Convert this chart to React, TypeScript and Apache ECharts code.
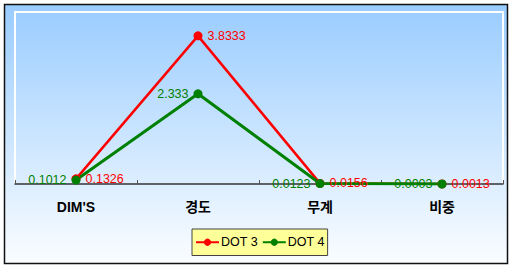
import React, { useEffect, useRef } from "react";
import * as echarts from "echarts";

const categories = ["DIM'S", "경도", "무계", "비중"];
const dot3 = [0.1326, 3.8333, 0.0156, 0.0013];
const dot4 = [0.1012, 2.333, 0.0123, 0.0003];
const seriesNames = ["DOT 3", "DOT 4"];

const FONT = "'Liberation Sans', Arial, 'Noto Sans CJK KR', sans-serif";

export default function App() {
  const ref = useRef<HTMLDivElement>(null);
  useEffect(() => {
    const chart = echarts.init(ref.current!, null, { renderer: "svg" });
    chart.setOption({
      animation: false,
      backgroundColor: "#ffffff",
      graphic: [
        {
          type: "rect",
          z: -10,
          silent: true,
          shape: { x: 4.5, y: 4.5, width: 503, height: 259 },
          style: {
            fill: new echarts.graphic.LinearGradient(0, 0, 0, 1, [
              { offset: 0, color: "#99ccff" },
              { offset: 1, color: "#fbfdff" },
            ]),
            stroke: "#111",
            lineWidth: 1.5,
          },
        },
        {
          type: "polyline",
          z: -5,
          silent: true,
          shape: { points: [[15, 184], [15, 12], [503, 12], [503, 184]] },
          style: { stroke: "#ffffff", lineWidth: 2, fill: "none" },
        },
      ],
      grid: { left: 15, right: 6, top: 12, bottom: 81 },
      legend: {
        data: seriesNames,
        orient: "horizontal",
        left: 192,
        top: 229,
        backgroundColor: "#ffff99",
        borderColor: "#444",
        borderWidth: 1,
        padding: [7, 3, 7, 3],
        itemGap: 4,
        itemWidth: 23,
        itemHeight: 9,
        textStyle: { fontFamily: FONT, fontSize: 12.5, color: "#000", padding: [0, 0, 0, -3] },
      },
      xAxis: {
        type: "category",
        data: categories,
        boundaryGap: true,
        axisLine: { show: true, lineStyle: { color: "#333", width: 1.5 } },
        axisTick: { show: true, inside: true, length: 4, lineStyle: { color: "#555" } },
        axisLabel: {
          color: "#000",
          fontFamily: FONT,
          fontWeight: "bold",
          fontSize: 14,
          margin: 16,
        },
        splitLine: { show: false },
      },
      yAxis: {
        type: "value",
        min: 0,
        max: 4.45,
        show: false,
        splitLine: { show: false },
      },
      series: [
        {
          name: seriesNames[0],
          type: "line",
          data: dot3,
          color: "#ff0000",
          symbol: "circle",
          symbolSize: 9,
          lineStyle: { width: 2.5, color: "#ff0000" },
          label: {
            show: true,
            position: "right",
            distance: 5,
            color: "#ff0000",
            fontFamily: FONT,
            fontSize: 12.5,
            formatter: (p: any) => String(p.value),
          },
        },
        {
          name: seriesNames[1],
          type: "line",
          data: dot4,
          color: "#008000",
          symbol: "circle",
          symbolSize: 9,
          lineStyle: { width: 3, color: "#008000" },
          label: {
            show: true,
            position: "left",
            distance: 5,
            color: "#008000",
            fontFamily: FONT,
            fontSize: 12.5,
            formatter: (p: any) => String(p.value),
          },
        },
      ],
    });
    return () => chart.dispose();
  }, []);
  return (
    <div
      ref={ref}
      style={{ position: "fixed", left: 0, top: 0, width: 509, height: 265 }}
    />
  );
}
